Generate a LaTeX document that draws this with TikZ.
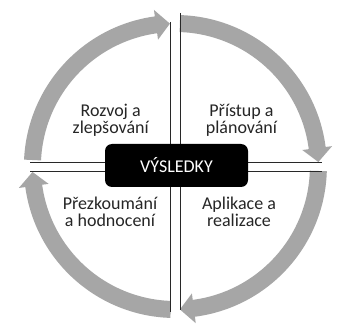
\documentclass[tikz,border=0pt]{standalone}
\usepackage{fontspec}
\setmainfont{Carlito}
\definecolor{bandgray}{RGB}{166,166,166}
\definecolor{txt}{RGB}{38,38,38}
\definecolor{linec}{RGB}{40,40,40}
\tikzset{
  band/.style={fill=bandgray},
  divider/.style={draw=linec, line width=0.9pt},
  quadtext/.style={text=txt, font=\fontsize{18}{17}\selectfont, align=center, inner sep=0pt},
  resultbox/.style={fill=black, rounded corners=7pt, minimum width=143pt, minimum height=43pt, text=white, font=\fontsize{18}{20}\selectfont, inner sep=0pt}
}
\begin{document}
\begin{tikzpicture}[x=1pt,y=1pt]
\useasboundingbox (0,0) rectangle (340,327);
\fill[white] (0,0) rectangle (340,327);
% arcs
\begin{scope}[shift={(175.4,160.5)}]
  % top-left
  \fill[band] (177.4:151.5pt) arc[start angle=177.4, end angle=97.8, radius=151.5pt]
     -- (97.8:158pt) -- (92.2:143pt) -- (97.8:128pt) -- (97.8:134.5pt)
     arc[start angle=97.8, end angle=177.4, radius=134.5pt] -- cycle;
  % top-right
  \fill[band] (88.2:151.5pt) arc[start angle=88.2, end angle=7.4, radius=151.5pt]
     -- (7.4:158pt) -- (1.8:143pt) -- (7.4:128pt) -- (7.4:134.5pt)
     arc[start angle=7.4, end angle=88.2, radius=134.5pt] -- cycle;
  % bottom-right
  \fill[band] (-1.8:151.5pt) arc[start angle=-1.8, end angle=-82.6, radius=151.5pt]
     -- (-82.6:158pt) -- (-88.2:143pt) -- (-82.6:128pt) -- (-82.6:134.5pt)
     arc[start angle=-82.6, end angle=-1.8, radius=134.5pt] -- cycle;
  % bottom-left
  \fill[band] (-91.9:151.5pt) arc[start angle=-91.9, end angle=-172.2, radius=151.5pt]
     -- (-172.2:158pt) -- (-177.8:143pt) -- (-172.2:128pt) -- (-172.2:134.5pt)
     arc[start angle=-172.2, end angle=-91.9, radius=134.5pt] -- cycle;
\end{scope}
% dividers
\coordinate (v1t) at (170.7,305);
\coordinate (v1b) at (170.7,15);
\coordinate (v2t) at (180,314);
\coordinate (v2b) at (180,17);
\coordinate (h1l) at (30,165);
\coordinate (h1r) at (322,165);
\coordinate (h2l) at (30,156);
\coordinate (h2r) at (322,156);
\draw[divider] (v1t) -- (v1b);
\draw[divider] (v2t) -- (v2b);
\draw[divider] (h1l) -- (h1r);
\draw[divider] (h2l) -- (h2r);
% center box
\node[resultbox] (res) at (176.5,161.5) {VÝSLEDKY};
% quadrant texts
\node[quadtext] (tl) at (110.7,207) {Rozvoj a\\zlepšování};
\node[quadtext] (tr) at (241.5,207) {Přístup a\\plánování};
\node[quadtext] (bl) at (110,115) {Přezkoumání\\a hodnocení};
\node[quadtext] (br) at (239,115) {Aplikace a\\realizace};
\end{tikzpicture}
\end{document}
